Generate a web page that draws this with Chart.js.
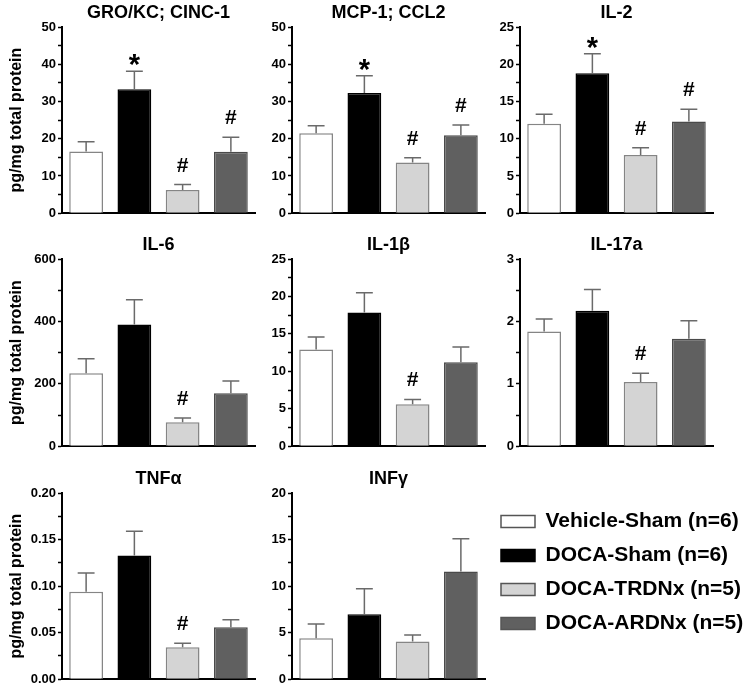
<!DOCTYPE html>
<html lang="en">
<head>
<meta charset="UTF-8">
<title>Cytokine panels</title>
<script src="https://cdn.jsdelivr.net/npm/chart.js"></script>
<style>
    html, body { margin: 0; padding: 0; background: #fff; overflow: hidden; }
    #page { position: relative; width: 754px; height: 696px; overflow: hidden; }
    .panel { position: absolute; }
</style>
</head>
<body>
<div id="page"></div>
<script>
// groups and colours
const groups = ['Vehicle-Sham (n=6)', 'DOCA-Sham (n=6)', 'DOCA-TRDNx (n=5)', 'DOCA-ARDNx (n=5)'];
const fills = ['#ffffff', '#000000', '#d4d4d4', '#606060'];
const edges = ['#858585', '#000000', '#858585', '#4a4a4a'];

// panel titles
const titles = ['GRO/KC; CINC-1', 'MCP-1; CCL2', 'IL-2', 'IL-6', 'IL-1\u03B2', 'IL-17a', 'TNF\u03B1', 'INF\u03B3'];

// means, upper SEM and significance marks for every cytokine
const groKc = [16.6, 33.3, 6.2, 16.5];
const groKcSem = [2.6, 4.8, 1.5, 3.9];
const groKcMarks = ['', '*', '#', '#'];

const mcp1 = [21.5, 32.3, 13.6, 20.9];
const mcp1Sem = [2.0, 4.6, 1.3, 2.8];
const mcp1Marks = ['', '*', '#', '#'];

const il2 = [12.0, 18.8, 7.8, 12.3];
const il2Sem = [1.3, 2.6, 1.0, 1.65];
const il2Marks = ['', '*', '#', '#'];

const il6 = [234, 390, 77, 170];
const il6Sem = [46, 79, 13, 39];
const il6Marks = ['', '', '#', ''];

const il1b = [12.9, 17.85, 5.6, 11.2];
const il1bSem = [1.7, 2.65, 0.64, 2.06];
const il1bMarks = ['', '', '#', ''];

const il17a = [1.84, 2.17, 1.03, 1.72];
const il17aSem = [0.20, 0.34, 0.14, 0.29];
const il17aMarks = ['', '', '#', ''];

const tnfa = [0.094, 0.133, 0.0343, 0.0558];
const tnfaSem = [0.020, 0.026, 0.0042, 0.008];
const tnfaMarks = ['', '', '#', ''];

const infg = [4.39, 6.97, 4.04, 11.57];
const infgSem = [1.53, 2.75, 0.70, 3.52];
const infgMarks = ['', '', '', ''];

// y axes: max, labelled step, minor step, decimals
const yMax = [50, 50, 25, 600, 25, 3, 0.20, 20];
const yMajor = [10, 10, 5, 200, 5, 1, 0.05, 5];
const yMinor = [5, 5, 2.5, 100, 2.5, 0.5, 0.025, 2.5];
const yDecimals = [0, 0, 0, 0, 0, 0, 2, 0];
const yLabel = 'pg/mg total protein';

const means = [groKc, mcp1, il2, il6, il1b, il17a, tnfa, infg];
const sems = [groKcSem, mcp1Sem, il2Sem, il6Sem, il1bSem, il17aSem, tnfaSem, infgSem];
const marks = [groKcMarks, mcp1Marks, il2Marks, il6Marks, il1bMarks, il17aMarks, tnfaMarks, infgMarks];

Chart.defaults.font.family = '"Liberation Sans", Arial, sans-serif';
Chart.defaults.color = '#000';

// layout of the 3x3 grid (axis x, axis width, plot top, plot height)
const axisX = [62, 292, 520];
const axisW = [62, 50, 40];
const plotTop = [27, 259, 493];
const plotH = [192, 193, 192];
const plotW = 193;
const titleH = 28;

const errorBars = {
    id: 'errorBars',
    afterDatasetsDraw(chart, args, opts) {
        const ctx = chart.ctx;
        const y = chart.scales.y;
        const meta = chart.getDatasetMeta(0);
        const ds = chart.data.datasets[0];
        ctx.save();
        meta.data.forEach((bar, i) => {
            const top = y.getPixelForValue(ds.data[i] + opts.sem[i]);
            const half = bar.width * 0.25;
            ctx.strokeStyle = '#6a6a6a';
            ctx.lineWidth = 1.5;
            ctx.beginPath();
            ctx.moveTo(bar.x, bar.y);
            ctx.lineTo(bar.x, top);
            ctx.moveTo(bar.x - half, top);
            ctx.lineTo(bar.x + half, top);
            ctx.stroke();
            const m = opts.marks[i];
            if (m) {
                ctx.fillStyle = '#000';
                ctx.textAlign = 'center';
                ctx.textBaseline = 'alphabetic';
                if (m === '*') {
                    ctx.font = 'bold 29px "Liberation Sans", Arial, sans-serif';
                    ctx.fillText(m, bar.x, top + 3);
                } else {
                    ctx.font = 'bold 21px "Liberation Sans", Arial, sans-serif';
                    ctx.fillText(m, bar.x, top - 13);
                }
            }
        });
        ctx.restore();
    }
};

const page = document.getElementById('page');

function makePanel(k) {
    const col = k % 3, row = Math.floor(k / 3);
    const div = document.createElement('div');
    div.className = 'panel';
    const w = axisW[col] + plotW + 8;
    const h = titleH + plotH[row] + 4;
    div.style.left = (axisX[col] - axisW[col]) + 'px';
    div.style.top = (plotTop[row] - titleH) + 'px';
    div.style.width = w + 'px';
    div.style.height = h + 'px';
    const canvas = document.createElement('canvas');
    div.appendChild(canvas);
    page.appendChild(div);

    const major = yMajor[k], dec = yDecimals[k], yw = axisW[col];
    new Chart(canvas, {
        type: 'bar',
        data: {
            labels: groups,
            datasets: [{
                data: means[k],
                backgroundColor: fills,
                borderColor: edges,
                borderWidth: 1.5,
                barPercentage: 0.7,
                categoryPercentage: 1.0
            }]
        },
        options: {
            responsive: true,
            maintainAspectRatio: false,
            animation: false,
            devicePixelRatio: 1,
            layout: { padding: { left: 0, right: 8, top: 0, bottom: 4 } },
            plugins: {
                legend: { display: false },
                tooltip: { enabled: false },
                title: {
                    display: true,
                    text: titles[k],
                    fullSize: false,
                    font: { size: 18, weight: 'bold', lineHeight: '20px' },
                    padding: { top: 4, bottom: 4 }
                },
                errorBars: { sem: sems[k], marks: marks[k] }
            },
            scales: {
                x: {
                    ticks: { display: false },
                    grid: { display: false, drawTicks: false },
                    border: { display: true, color: '#000', width: 2 },
                    afterFit(s) { s.height = 0; }
                },
                y: {
                    min: 0,
                    max: yMax[k],
                    ticks: {
                        stepSize: yMinor[k],
                        autoSkip: false,
                        padding: 2,
                        font: { size: 13, weight: 'bold' },
                        callback(v) {
                            const r = v / major;
                            if (Math.abs(r - Math.round(r)) > 1e-6) return '';
                            return dec ? v.toFixed(dec) : String(Math.round(v));
                        }
                    },
                    grid: { drawOnChartArea: false, drawTicks: true, tickLength: 4, tickColor: '#000', tickWidth: 1.5 },
                    border: { display: true, color: '#000', width: 2 },
                    title: {
                        display: col === 0,
                        text: yLabel,
                        font: { size: 16, weight: 'bold' },
                        padding: { top: 7, bottom: 0 }
                    },
                    afterFit(s) { s.width = yw; }
                }
            }
        },
        plugins: [errorBars]
    });
}

for (let k = 0; k < 8; k++) makePanel(k);

// legend in the empty ninth cell
const legDiv = document.createElement('div');
legDiv.className = 'panel';
legDiv.style.left = '488px';
legDiv.style.top = '498px';
legDiv.style.width = '266px';
legDiv.style.height = '330px';
const legCanvas = document.createElement('canvas');
legDiv.appendChild(legCanvas);
page.appendChild(legDiv);

new Chart(legCanvas, {
    type: 'bar',
    data: {
        labels: [],
        datasets: groups.map((g, i) => ({
            label: g,
            data: [],
            backgroundColor: fills[i],
            borderColor: i === 1 ? '#000' : '#555',
            borderWidth: 1.5
        }))
    },
    options: {
        responsive: true,
        maintainAspectRatio: false,
        animation: false,
        devicePixelRatio: 1,
        plugins: {
            tooltip: { enabled: false },
            legend: {
                position: 'top',
                align: 'start',
                labels: {
                    boxWidth: 34,
                    boxHeight: 12,
                    padding: 13,
                    color: '#000',
                    font: { size: 21, weight: 'bold' }
                }
            }
        },
        scales: { x: { display: false }, y: { display: false } }
    }
});
</script>
</body>
</html>
